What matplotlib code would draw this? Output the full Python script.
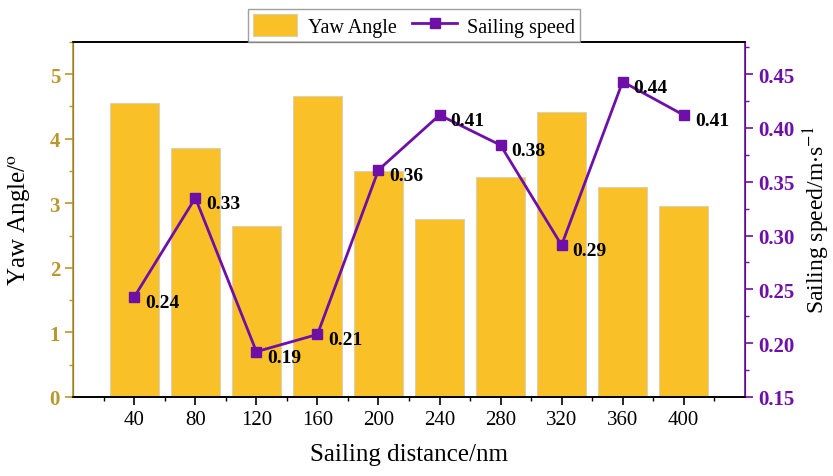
import numpy as np
import matplotlib.pyplot as plt
import matplotlib
from matplotlib.ticker import MultipleLocator

matplotlib.rcParams['font.family'] = ['Liberation Serif', 'DejaVu Serif']
matplotlib.rcParams['mathtext.fontset'] = 'stix'

distance = [40, 80, 120, 160, 200, 240, 280, 320, 360, 400]
yaw_angle = [4.55, 3.85, 2.65, 4.66, 3.5, 2.75, 3.4, 4.41, 3.25, 2.95]
speed = [0.243, 0.335, 0.192, 0.208, 0.361, 0.412, 0.384, 0.291, 0.443, 0.412]
speed_labels = ['0.24', '0.33', '0.19', '0.21', '0.36', '0.41', '0.38', '0.29', '0.44', '0.41']

bar_color = '#F9C127'
gold = '#B8982E'
purple = '#6E0FA8'

fig = plt.figure(figsize=(8.33, 4.77), dpi=100)
ax = fig.add_axes([0.088, 0.166, 0.806, 0.744])
ax2 = ax.twinx()

bars = ax.bar(distance, yaw_angle, width=32, color=bar_color, edgecolor='#D8D0B8',
              linewidth=0.8, label='Yaw Angle', zorder=2)
line, = ax2.plot(distance, speed, color=purple, lw=2, marker='s', ms=7,
                 label='Sailing speed', zorder=3)

for x, y, s in zip(distance, speed, speed_labels):
    ax2.annotate(s, (x, y), xytext=(8, -4), textcoords='offset points',
                 ha='left', va='center', fontsize=14, fontweight='bold', color='black')

ax.set_xlim(0, 440)
ax.set_ylim(0, 5.5)
ax2.set_ylim(0.15, 0.48)

ax.set_xticks(distance)
ax.set_xticks(np.arange(20, 440, 40), minor=True)
ax.yaxis.set_major_locator(MultipleLocator(1))
ax.yaxis.set_minor_locator(MultipleLocator(0.5))
ax2.yaxis.set_minor_locator(MultipleLocator(0.025))
ax2.set_yticks(np.arange(0.15, 0.451, 0.05))

ax.tick_params(axis='x', which='major', direction='out', length=6, width=1.2, labelsize=15)
ax.tick_params(axis='x', which='minor', direction='out', length=3, width=1.0)
ax.tick_params(axis='y', which='major', direction='out', length=6, width=1.2,
               colors=gold, labelsize=15)
ax.tick_params(axis='y', which='minor', direction='out', length=3, width=1.0, colors=gold)
ax2.tick_params(axis='y', which='major', direction='out', length=6, width=1.2,
                colors=purple, labelsize=15)
ax2.tick_params(axis='y', which='minor', direction='out', length=3, width=1.0, colors=purple)
for lab in ax.get_yticklabels():
    lab.set_fontweight('bold')
ax2.set_yticklabels(['%.2f' % v for v in np.arange(0.15, 0.451, 0.05)], fontweight='bold')

for a in (ax, ax2):
    a.spines['top'].set_color('black')
    a.spines['bottom'].set_color('black')
    a.spines['top'].set_linewidth(1.2)
    a.spines['bottom'].set_linewidth(1.2)
ax2.spines['left'].set_color(gold)
ax2.spines['left'].set_linewidth(1.2)
ax2.spines['right'].set_color(purple)
ax2.spines['right'].set_linewidth(1.2)

ax.set_xlabel('Sailing distance/nm', fontsize=18, labelpad=10)
ax.set_ylabel('Yaw Angle/$^{\\mathrm{o}}$', fontsize=18, labelpad=12)
ax2.set_ylabel('Sailing speed/m$\\cdot$s$^{-1}$', fontsize=17, labelpad=5)

fig.legend([bars, line], ['Yaw Angle', 'Sailing speed'], loc='upper center',
           bbox_to_anchor=(0.497, 1.0), ncol=2, fontsize=14.5, frameon=True,
           fancybox=False, edgecolor='#888888', handlelength=2.2, handleheight=1.3,
           columnspacing=0.8, handletextpad=0.5, borderpad=0.25)

plt.savefig('out.png', dpi=100)
